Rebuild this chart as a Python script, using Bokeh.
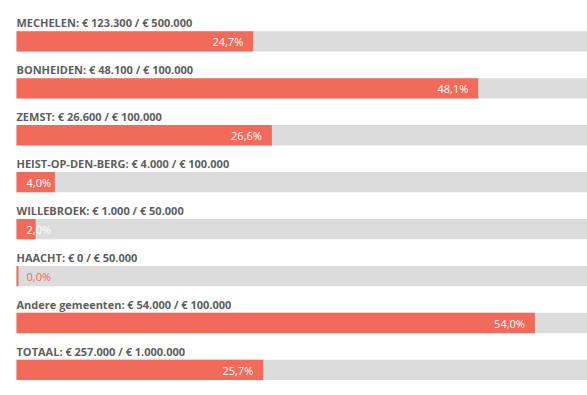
import numpy as np
from bokeh.plotting import figure
from bokeh.models import Range1d, ColumnDataSource
from bokeh.core.properties import value
from bokeh.embed import file_html
from bokeh.resources import INLINE

# ---- data ----
names = ["MECHELEN", "BONHEIDEN", "ZEMST", "HEIST-OP-DEN-BERG", "WILLEBROEK",
         "HAACHT", "Andere gemeenten", "TOTAAL"]
raised = [123300, 48100, 26600, 4000, 1000, 0, 54000, 257000]
goals = [500000, 100000, 100000, 100000, 50000, 50000, 100000, 1000000]


def eur(n):
    return "€ " + f"{n:,}".replace(",", ".")


pct = np.array([r / g * 100 for r, g in zip(raised, goals)])
pct_labels = [f"{v:.1f}".replace(".", ",") + "%" for v in pct]
titles = [f"{n}: {eur(r)} / {eur(g)}" for n, r, g in zip(names, raised, goals)]

# ---- layout / style ----
W, H = 587, 392
PX_PER_PCT = 9.6
LEFT_PAD = 16
ROW = 46.94
BAR_TOP0 = 30.7
BAR_H = 20.3
RED = "#F26A5A"
GRAY = "#DCDCDC"
TITLE_COLOR = "#5E5E5E"

n = len(names)
idx = np.arange(n)
bar_top = BAR_TOP0 + ROW * idx
bar_center = bar_top + BAR_H / 2
title_y = bar_top - 8.3
label_y = bar_center + 0.5

min_w = 2.0 / PX_PER_PCT
bar_right = np.maximum(pct, min_w)
bar_px = pct * PX_PER_PCT

inside = bar_px >= 50  # label fits right-aligned inside bar
lab_x = np.where(inside, pct, 0.0)
lab_off = np.where(inside, -10, 10)
lab_align = ["right" if b else "left" for b in inside]
lab_color = ["white" if px > 12 else RED for px in bar_px]

src = ColumnDataSource(dict(
    y=bar_center, right=bar_right, full=np.full(n, 100.0),
    ty=title_y, titles=titles, ly=label_y, lx=lab_x, loff=lab_off,
    lalign=lab_align, lcolor=lab_color, labels=pct_labels,
))

p = figure(width=W, height=H,
           x_range=Range1d(-LEFT_PAD / PX_PER_PCT, (W - LEFT_PAD) / PX_PER_PCT),
           y_range=Range1d(H, 0),
           x_axis_type=None, y_axis_type=None,
           output_backend="svg", toolbar_location=None, min_border=0)
p.grid.visible = False
p.outline_line_color = None
p.background_fill_color = "white"
p.border_fill_color = "white"

p.hbar(y="y", left=0, right="full", height=BAR_H, source=src,
       fill_color=GRAY, line_color=None)
p.hbar(y="y", left=0, right="right", height=BAR_H, source=src,
       fill_color=RED, line_color=None)

p.text(x=0, y="ty", text="titles", source=src,
       text_font=value("Open Sans"), text_font_style="bold",
       text_font_size="11px", text_color=TITLE_COLOR,
       text_baseline="middle", text_align="left")

p.text(x="lx", y="ly", text="labels", source=src, x_offset="loff",
       text_align="lalign", text_color="lcolor",
       text_font=value("Open Sans"), text_font_size="11px",
       text_baseline="middle")

open("out.html", "w").write(file_html(p, INLINE))
